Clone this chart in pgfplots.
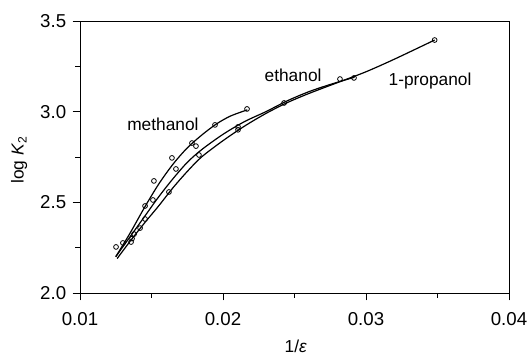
\documentclass[border=0pt]{standalone}
\usepackage{fontspec}
\setmainfont{Liberation Sans}
\usepackage{pgfplots}
\pgfplotsset{compat=1.18}
\begin{document}
\fontsize{14pt}{16pt}\selectfont
\begin{tikzpicture}
\useasboundingbox (-60pt,-49.5pt) rectangle (336.75pt,219.75pt);
\begin{axis}[
  at={(0,0)}, anchor=south west,
  scale only axis, width=321.75pt, height=204pt,
  xmin=0.01, xmax=0.04, ymin=2.0, ymax=3.5,
  xtick={0.01,0.02,0.03,0.04}, ytick={2.0,2.5,3.0,3.5},
  scaled x ticks=false,
  minor x tick num=1, minor y tick num=1,
  tick align=outside, xtick pos=left, ytick pos=left,
  major tick length=5.5pt, minor tick length=3.5pt,
  tick style={black, line width=0.6pt},
  axis line style={line width=0.7pt},
  /pgf/number format/assume math mode=true,
  xticklabel style={/pgf/number format/fixed, /pgf/number format/fixed zerofill, /pgf/number format/precision=2, yshift=-4pt},
  yticklabel style={/pgf/number format/fixed, /pgf/number format/fixed zerofill, /pgf/number format/precision=1},
  xlabel={1/\textit{ε}},
  ylabel={log \textit{K}\textsubscript{2}},
  label style={font=\fontsize{13pt}{15pt}\selectfont},
  xlabel style={at={(axis description cs:0.503,-0.195)}, anchor=center},
  ylabel style={at={(axis description cs:-0.142,0.49)}, anchor=center},
  clip=false,
]
% fitted curves
\addplot[black, line width=0.9pt, smooth] coordinates {
 (0.0125,2.20) (0.0135,2.33) (0.0145,2.47) (0.0155,2.60) (0.0165,2.71)
 (0.0175,2.80) (0.0185,2.87) (0.0195,2.93) (0.0205,2.975) (0.0217,3.01)};
\addplot[black, line width=0.9pt, smooth] coordinates {
 (0.0125,2.20) (0.0135,2.31) (0.0145,2.42) (0.0155,2.53) (0.0165,2.63)
 (0.0175,2.72) (0.0185,2.79) (0.0200,2.875) (0.0215,2.945) (0.0230,3.00)
 (0.0245,3.06) (0.0260,3.11) (0.0275,3.15) (0.0292,3.19)};
\addplot[black, line width=0.9pt, smooth] coordinates {
 (0.0126,2.19) (0.0135,2.285) (0.0145,2.385) (0.0155,2.48) (0.0165,2.58)
 (0.0175,2.67) (0.0185,2.75) (0.0200,2.84) (0.0215,2.92) (0.0230,2.99)
 (0.0245,3.05) (0.0260,3.10) (0.0280,3.16) (0.0300,3.22) (0.0320,3.29)
 (0.0348,3.395)};
% data points
\addplot[only marks, mark=o, mark size=1.8pt, black, mark options={line width=0.6pt}] coordinates {
 (0.01252,2.254) (0.01455,2.48) (0.01517,2.618) (0.01643,2.745)
 (0.01783,2.827) (0.01944,2.927) (0.02168,3.015)};
\addplot[only marks, mark=o, mark size=1.8pt, black, mark options={line width=0.6pt}] coordinates {
 (0.0130,2.276) (0.01378,2.325) (0.01455,2.408) (0.0151,2.513)
 (0.01671,2.684) (0.01811,2.81) (0.02105,2.916) (0.02427,3.048)
 (0.02916,3.186)};
\addplot[only marks, mark=o, mark size=1.8pt, black, mark options={line width=0.6pt}] coordinates {
 (0.01357,2.281) (0.01364,2.30) (0.0142,2.358) (0.01622,2.557)
 (0.01832,2.761) (0.02105,2.90) (0.02818,3.18) (0.0348,3.395)};
\node[font=\fontsize{13pt}{15pt}\selectfont] at (axis cs:0.0158,2.932) {methanol};
\node[font=\fontsize{13pt}{15pt}\selectfont] at (axis cs:0.0249,3.2) {ethanol};
\node[font=\fontsize{13pt}{15pt}\selectfont] at (axis cs:0.03448,3.169) {1-propanol};
\end{axis}
\end{tikzpicture}
\end{document}
